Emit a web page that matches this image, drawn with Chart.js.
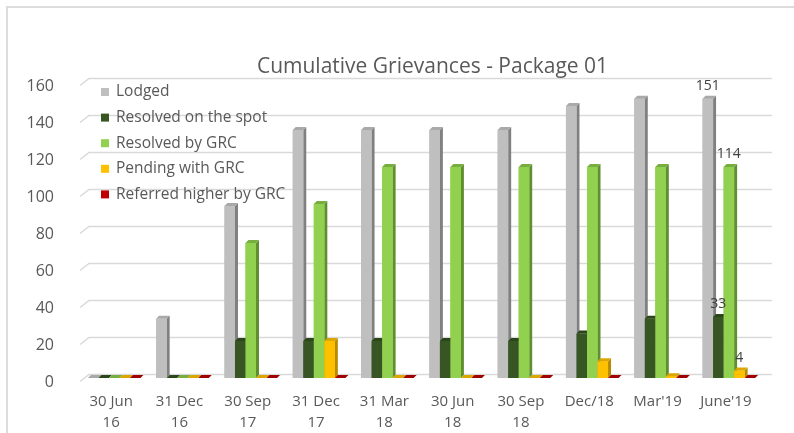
<!DOCTYPE html>
<html><head><meta charset="utf-8">
<script src="https://cdn.jsdelivr.net/npm/chart.js@4"></script>
<style>
html,body{margin:0;padding:0;background:#fff;}
#wrap{position:relative;width:794px;height:433px;overflow:hidden;}
#frame{position:absolute;left:6px;top:6px;right:0;bottom:-10px;border-top:2px solid #dcdcdc;border-left:2px solid #dcdcdc;}
canvas{position:absolute;left:0;top:0;}
</style></head><body>
<div id="wrap"><div id="frame"></div><canvas id="c" width="794" height="433"></canvas></div>
<script>
const categories = [['30 Jun','16'],['31 Dec','16'],['30 Sep','17'],['31 Dec','17'],['31 Mar','18'],['30 Jun','18'],['30 Sep','18'],'Dec/18',"Mar'19","June'19"];
const lodged = [0,32,93,134,134,134,134,147,151,151];
const resolvedSpot = [0,0,20,20,20,20,20,24,32,33];
const resolvedGRC = [0,0,73,94,114,114,114,114,114,114];
const pendingGRC = [0,0,0,20,0,0,0,9,1,4];
const referredHigher = [0,0,0,0,0,0,0,0,0,0];
const seriesNames = ['Lodged','Resolved on the spot','Resolved by GRC','Pending with GRC','Referred higher by GRC'];
const yMin = 0, yMax = 160, yStep = 20;
const chartTitle = 'Cumulative Grievances - Package 01';

const frontColors = ['#BFBFBF','#375623','#92D050','#FFC000','#C00000'];
const sideColors  = ['#808080','#22381a','#5f8f2e','#b88a00','#7a0000'];
const topColors   = ['#a9a9a9','#2c461c','#78ad40','#dca600','#a00000'];
const DEPTH = 3;
const FONT = '"Open Sans", "Liberation Sans", sans-serif';
const TEXT = '#595959';

const seriesData = [lodged, resolvedSpot, resolvedGRC, pendingGRC, referredHigher];

const gridPlugin = {
  id: 'grid3d',
  beforeDatasetsDraw(chart) {
    const y = chart.scales.y, a = chart.chartArea, ctx = chart.ctx;
    ctx.save();
    ctx.strokeStyle = '#d9d9d9';
    ctx.lineWidth = 1.5;
    y.ticks.forEach(t => {
      const py = y.getPixelForValue(t.value);
      const yb = py - 3.5, yf = py + 3.5;
      ctx.beginPath();
      ctx.moveTo(a.left, yf);
      ctx.lineTo(a.left + 9, yb);
      ctx.lineTo(a.right + 9, yb);
      ctx.stroke();
    });
    ctx.restore();
  }
};

const bar3dPlugin = {
  id: 'bar3d',
  afterDatasetsDraw(chart) {
    const ctx = chart.ctx, d = DEPTH;
    ctx.save();
    chart.data.datasets.forEach((ds, i) => {
      const meta = chart.getDatasetMeta(i);
      meta.data.forEach(el => {
        const p = el.getProps(['x','y','base','width'], true);
        const l = p.x - p.width/2, r = p.x + p.width/2, top = p.y, base = p.base;
        ctx.fillStyle = sideColors[i];
        ctx.beginPath();
        ctx.moveTo(r, top); ctx.lineTo(r + d, top - d); ctx.lineTo(r + d, base - d); ctx.lineTo(r, base);
        ctx.closePath(); ctx.fill();
        ctx.fillStyle = frontColors[i];
        ctx.fillRect(l, top, r - l, base - top);
        ctx.fillStyle = topColors[i];
        ctx.beginPath();
        ctx.moveTo(l, top); ctx.lineTo(l + d, top - d); ctx.lineTo(r + d, top - d); ctx.lineTo(r, top);
        ctx.closePath(); ctx.fill();
      });
    });
    ctx.fillStyle = '#404040';
    ctx.font = '14px ' + FONT;
    ctx.textAlign = 'center';
    ctx.textBaseline = 'middle';
    const last = chart.data.labels.length - 1;
    chart.data.datasets.forEach((ds, i) => {
      const v = ds.data[last];
      if (!v) return;
      const el = chart.getDatasetMeta(i).data[last];
      const p = el.getProps(['x','y'], true);
      ctx.fillText(String(v), p.x, p.y - 13);
    });
    ctx.restore();
  }
};

const decorPlugin = {
  id: 'decor',
  afterDraw(chart) {
    const ctx = chart.ctx, a = chart.chartArea;
    ctx.save();
    ctx.fillStyle = TEXT;
    ctx.font = '21px ' + FONT;
    ctx.textAlign = 'center';
    ctx.textBaseline = 'middle';
    ctx.fillText(chartTitle, (a.left + a.right)/2 + 11, 67);
    ctx.font = '15.5px ' + FONT;
    ctx.textAlign = 'left';
    chart.data.datasets.forEach((ds, i) => {
      const cy = 92 + i * 25.6;
      ctx.fillStyle = frontColors[i];
      ctx.fillRect(101, cy - 4, 8, 8);
      ctx.fillStyle = TEXT;
      ctx.fillText(ds.label, 116, cy);
    });
    ctx.restore();
  }
};

new Chart(document.getElementById('c'), {
  type: 'bar',
  data: {
    labels: categories,
    datasets: seriesNames.map((name, i) => ({
      label: name,
      data: seriesData[i],
      backgroundColor: frontColors[i],
      categoryPercentage: 0.77,
      barPercentage: 1.0
    }))
  },
  options: {
    responsive: false,
    animation: false,
    layout: { padding: { top: 82, left: 6, right: 31, bottom: 0 } },
    plugins: { legend: { display: false }, tooltip: { enabled: false }, title: { display: false } },
    scales: {
      x: {
        grid: { display: false }, border: { display: false },
        ticks: { color: TEXT, font: { family: FONT, size: 15, lineHeight: 1.35 }, padding: 6, maxRotation: 0, autoSkip: false, labelOffset: -3 },
        afterFit(s) { s.height = 55; }
      },
      y: {
        min: yMin, max: yMax,
        grid: { display: false }, border: { display: false },
        ticks: { stepSize: yStep, color: TEXT, font: { family: FONT, size: 16 }, padding: 18, labelOffset: 4 },
        afterFit(s) { s.width = 74; }
      }
    }
  },
  plugins: [gridPlugin, bar3dPlugin, decorPlugin]
});
</script>
</body></html>
